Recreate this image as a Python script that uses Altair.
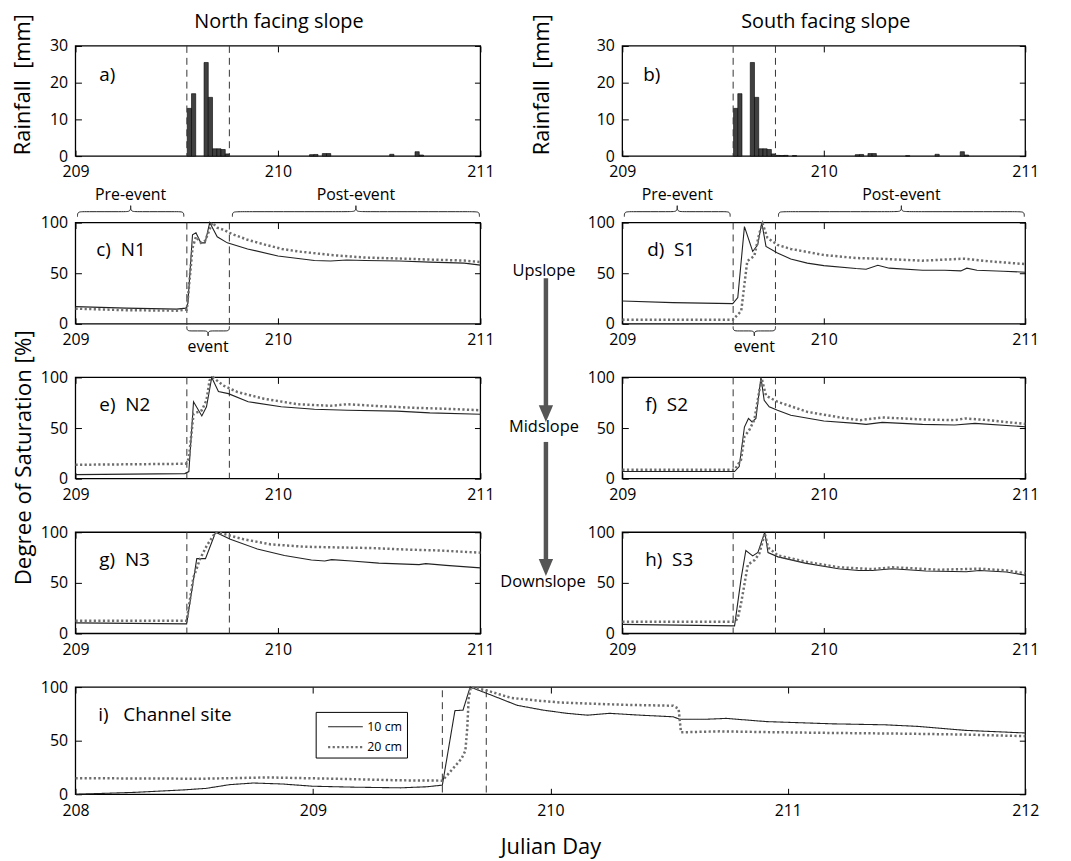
import altair as alt
import pandas as pd

FONT = "Open Sans"
WC, HC = 1063, 853          # canvas (plot area) size in px
TICK = 6                    # inward tick length
NB = "\u00a0"

# ---------------- geometry (canvas px) ----------------
LEFT_X = [68, 476]
RIGHT_X = [619, 1025]
WIDE_X = [68, 1025]
ROW_A = [146, 35]      # [bottom, top]
ROW_C = [315, 213]
ROW_E = [471, 369]
ROW_G = [627, 525]
ROW_I = [789, 681]

# ---------------- data ----------------
x_days = [209, 211]
x_ticks = [209, 210, 211]
x_days_i = [208, 212]
x_ticks_i = [208, 209, 210, 211, 212]
rain_dom = [0, 30]
rain_ticks = [0, 10, 20, 30]
sat_dom = [0, 100]
sat_ticks = [0, 50, 100]

events = [209.55, 209.76]
events_i = [209.545, 209.73]
bin_width = 1 / 48

rain_t_a = [209.552, 209.573, 209.635, 209.656, 209.677, 209.698, 209.719, 209.740,
            210.156, 210.177, 210.219, 210.240, 210.552, 210.677, 210.698]
rain_mm_a = [13, 17, 25.5, 16, 2, 2, 1.8, 0.6, 0.4, 0.45, 0.7, 0.7, 0.5, 1.2, 0.3]
rain_t_b = rain_t_a + [209.760, 209.781, 209.802, 209.844, 210.406]
rain_mm_b = rain_mm_a + [0.2, 0.15, 0.2, 0.15, 0.1]

# N1
c10_t = [209.00, 209.25, 209.50, 209.545, 209.555, 209.578, 209.595, 209.619, 209.640, 209.663, 209.700,
         209.750, 209.850, 210.000, 210.180, 210.260, 210.340, 210.430, 210.600, 210.750, 210.920, 211.000]
c10_v = [17, 15.5, 14.5, 15.5, 20, 88, 90, 80, 80, 100, 86, 80, 74, 67, 62.5, 62, 63, 62.5, 62, 61, 60, 58]
c20_t = [209.00, 209.25, 209.50, 209.550, 209.578, 209.595, 209.620, 209.640, 209.676, 209.700, 209.730,
         209.770, 209.850, 209.940, 210.020, 210.100, 210.260, 210.430, 210.600, 210.750, 210.920, 211.000]
c20_v = [15, 13.5, 13, 14, 75, 86, 80, 82, 100, 95, 93, 89, 83, 78, 74, 71.5, 68, 65.5, 64.5, 63.5, 62.5, 61]
# S1
d10_t = [209.00, 209.25, 209.548, 209.573, 209.606, 209.647, 209.672, 209.692, 209.713, 209.770, 209.836,
         209.918, 210.000, 210.160, 210.210, 210.268, 210.325, 210.490, 210.600, 210.680, 210.710, 210.760,
         210.890, 211.000]
d10_v = [22.5, 21, 20, 26, 96, 71.5, 78, 100, 76.5, 70, 64, 60, 57.5, 54.6, 54, 57.8, 55, 53, 53, 52.3,
         55, 53, 52, 51]
d20_t = [209.00, 209.548, 209.590, 209.606, 209.620, 209.655, 209.680, 209.696, 209.720, 209.770, 209.836,
         210.000, 210.160, 210.268, 210.490, 210.700, 210.820, 211.000]
d20_v = [4, 4, 12.7, 39, 62, 67, 89.5, 99, 85, 78, 74, 68, 65, 64.4, 62.4, 64.4, 61.8, 59]
# N2
e10_t = [209.00, 209.54, 209.56, 209.583, 209.624, 209.647, 209.673, 209.706, 209.755, 209.853, 210.016,
         210.180, 210.343, 210.588, 210.750, 211.000]
e10_v = [4, 5, 7, 76, 62, 71, 100, 86, 84, 76, 71, 68.6, 67.6, 66.7, 65, 63.7]
e20_t = [209.00, 209.545, 209.56, 209.583, 209.624, 209.647, 209.662, 209.680, 209.730, 209.800, 209.930,
         210.098, 210.260, 210.343, 210.507, 210.670, 210.834, 211.000]
e20_v = [13.7, 14.7, 20, 64, 67.6, 77.5, 97, 100, 92, 85.6, 79, 73.5, 72, 73.5, 71.6, 70, 69, 67.6]
# S2
f10_t = [209.00, 209.557, 209.580, 209.606, 209.626, 209.644, 209.663, 209.688, 209.704, 209.729, 209.770,
         209.836, 210.000, 210.160, 210.210, 210.290, 210.490, 210.650, 210.750, 211.000]
f10_v = [7, 7, 12, 51, 59.5, 56, 59.5, 100, 77.5, 71, 67.6, 62.7, 57, 54.6, 53.6, 55.6, 53.6, 53, 54.6, 51.3]
f20_t = [209.00, 209.557, 209.589, 209.606, 209.630, 209.655, 209.680, 209.692, 209.713, 209.770, 209.918,
         210.080, 210.180, 210.290, 210.490, 210.650, 210.700, 210.820, 211.000]
f20_v = [8.8, 8.8, 18.6, 41.5, 48, 58, 87, 98.7, 82, 76, 66, 60.5, 57.8, 60.5, 58.5, 57.8, 59.5, 57.8, 54]
# N3
g10_t = [209.00, 209.549, 209.599, 209.642, 209.692, 209.765, 209.898, 210.032, 210.165, 210.231, 210.265,
         210.364, 210.498, 210.631, 210.697, 210.730, 210.830, 211.000]
g10_v = [10.5, 9.5, 74, 74, 100, 93, 83.5, 77, 72.6, 71.6, 73, 71.6, 69.5, 68.5, 68, 69, 67.3, 64.8]
g20_t = [209.00, 209.549, 209.582, 209.616, 209.649, 209.692, 209.732, 209.832, 209.965, 210.131, 210.298,
         210.464, 210.631, 210.797, 211.000]
g20_v = [12.5, 12.5, 55, 74, 87, 100, 98.4, 93, 88, 85.7, 85, 84.4, 82.9, 82, 79.8]
# S3
h10_t = [209.00, 209.557, 209.590, 209.613, 209.647, 209.673, 209.707, 209.723, 209.773, 209.907, 210.073,
         210.173, 210.240, 210.340, 210.507, 210.707, 210.773, 210.907, 211.000]
h10_v = [9, 7.5, 55, 82, 76.6, 80, 100, 80, 75.7, 69.5, 64, 62.3, 62.3, 64, 61.7, 61, 62.3, 60.7, 57.5]
h20_t = [209.00, 209.557, 209.573, 209.590, 209.623, 209.657, 209.680, 209.707, 209.723, 209.773, 209.907,
         210.073, 210.240, 210.340, 210.573, 210.773, 210.907, 211.000]
h20_v = [11.5, 11.5, 15, 30.5, 68, 72.6, 79, 99, 85, 77, 71, 65.4, 63.6, 65.4, 63, 64, 62.3, 59.5]
# Channel site
i10_t = [208.00, 208.25, 208.45, 208.55, 208.65, 208.75, 208.87, 209.00, 209.18, 209.37, 209.48, 209.545,
         209.598, 209.632, 209.662, 209.722, 209.780, 209.860, 209.970, 210.070, 210.155, 210.250, 210.378,
         210.517, 210.545, 210.657, 210.740, 210.910, 211.190, 211.410, 211.550, 211.750, 212.000]
i10_v = [0, 1.8, 4, 5.5, 9, 10.5, 9.6, 7.5, 6.6, 6, 7, 8.5, 78, 78.5, 100, 95, 90, 83, 78.5, 75.5, 73.8,
         75.5, 73.8, 72.3, 70, 70, 70.8, 67.8, 65.7, 64.8, 63.3, 59.6, 57.2]
i20_t = [208.00, 208.53, 208.81, 209.09, 209.37, 209.545, 209.570, 209.625, 209.642, 209.650, 209.656,
         209.665, 209.730, 209.833, 209.940, 210.044, 210.200, 210.323, 210.517, 210.540, 210.550, 210.713,
         210.910, 211.190, 211.470, 211.750, 212.000]
i20_v = [15, 14.5, 15.7, 14.5, 13, 12.7, 19, 33, 40.6, 62, 90, 100, 97, 90, 87.5, 85.6, 84.3, 83.4, 82.6,
         79.8, 57.8, 58.7, 58, 57.2, 56.6, 55.7, 54.2]

depth_names = ["10 cm", "20 cm"]

# ---------------- helpers ----------------
ONE = pd.DataFrame({"k": [0]})
SOLID = "#222222"
DOT = "#6e6e6e"
COMMON_AX = dict(domain=False, grid=False, title=None, tickSize=TICK, tickColor="black", tickWidth=1,
                 labelOverlap=False, labelFlush=False, labelBound=False)


def sc(dom, rng):
    return alt.Scale(domain=dom, range=rng, nice=False, zero=False)


def bottom_axis(values, yr):
    return alt.Axis(orient="bottom", values=values, format="d", offset=yr[0] - TICK - HC,
                    labelPadding=8, **COMMON_AX)


def base_layers(xdom, xr, ydom, yr, xt, yt):
    fr = pd.DataFrame({"x0": [xdom[0]], "x1": [xdom[1]], "y0": [ydom[0]], "y1": [ydom[1]]})
    xs, ys = sc(xdom, xr), sc(ydom, [yr[0], yr[1]])
    # tick labels split over two axes (ends / inner) so that none is dropped
    outer = [v for k, v in enumerate(xt) if k % 2 == 0]
    inner = [v for k, v in enumerate(xt) if k % 2 == 1]
    frame = alt.Chart(fr).mark_rect(fillOpacity=0, stroke="black", strokeWidth=1.3).encode(
        x=alt.X("x0:Q", scale=xs, axis=bottom_axis(outer, yr)),
        x2="x1:Q",
        y=alt.Y("y0:Q", scale=ys, axis=alt.Axis(orient="left", values=yt, format="d",
                                                offset=-(xr[0] + TICK), labelPadding=8, **COMMON_AX)),
        y2="y1:Q",
    )
    holder = alt.Chart(fr).mark_point(opacity=0).encode(
        x=alt.X("x0:Q", scale=xs, axis=alt.Axis(orient="top", values=xt, labels=False,
                                                offset=-(yr[1] + TICK), **COMMON_AX)),
        y=alt.Y("y0:Q", scale=ys, axis=alt.Axis(orient="right", values=yt, labels=False,
                                                offset=xr[1] - TICK - WC, **COMMON_AX)),
    )
    holder2 = alt.Chart(fr).mark_point(opacity=0).encode(
        x=alt.X("x1:Q", scale=xs, axis=bottom_axis(inner, yr)),
        y=alt.Y("y0:Q", scale=ys, axis=None),
    )
    return [frame, holder, holder2], xs, ys


def txt(s, x, y, size, align="center", angle=0):
    return alt.Chart(ONE).mark_text(text=s, fontSize=size, font=FONT, align=align, baseline="middle",
                                    angle=angle, color="black").encode(x=alt.value(x), y=alt.value(y))


def rules(evts, xs, ys, top, bot):
    df = pd.DataFrame({"t": evts, "top": [top] * len(evts), "bot": [bot] * len(evts)})
    return alt.Chart(df).mark_rule(color="#333333", strokeWidth=1, strokeDash=[7, 5]).encode(
        x=alt.X("t:Q", scale=xs, axis=None), y=alt.Y("top:Q", scale=ys, axis=None), y2="bot:Q")


def lines(t10, v10, t20, v20, xs, ys):
    d10 = pd.DataFrame({"t": t10, "v": v10})
    d20 = pd.DataFrame({"t": t20, "v": v20})
    s = alt.Chart(d10).mark_line(color=SOLID, strokeWidth=1.1).encode(
        x=alt.X("t:Q", scale=xs, axis=None), y=alt.Y("v:Q", scale=ys, axis=None))
    d = alt.Chart(d20).mark_line(color=DOT, strokeWidth=2.5, strokeDash=[2.2, 2.4]).encode(
        x=alt.X("t:Q", scale=xs, axis=None), y=alt.Y("v:Q", scale=ys, axis=None))
    return [s, d]


def brace(segments, xs, ys):
    rows = []
    for sid, (x0, x1, y_end, y_flat, y_tip) in enumerate(segments):
        xm = (x0 + x1) / 2
        e = min(0.03, (x1 - x0) * 0.12)
        left = [(x0, y_end), (x0, y_flat), (x0 + e, y_flat), (xm - e, y_flat), (xm, y_flat), (xm, y_tip)]
        right = [(x1, y_end), (x1, y_flat), (x1 - e, y_flat), (xm + e, y_flat), (xm, y_flat), (xm, y_tip)]
        for side, pts in (("l", left), ("r", right)):
            for k, (px, py) in enumerate(pts):
                rows.append({"seg": f"{sid}{side}", "k": k, "t": px, "v": py})
    df = pd.DataFrame(rows)
    return alt.Chart(df).mark_line(color="#222222", strokeWidth=1, interpolate="basis").encode(
        x=alt.X("t:Q", scale=xs, axis=None), y=alt.Y("v:Q", scale=ys, axis=None),
        detail="seg:N", order="k:Q")


def label_at(s, t, xs, ypix, size=16):
    return alt.Chart(pd.DataFrame({"t": [t]})).mark_text(text=s, fontSize=size, font=FONT,
                                                         baseline="middle", color="black").encode(
        x=alt.X("t:Q", scale=xs, axis=None), y=alt.value(ypix))


def rain_panel(xr, rt, rmm, lab, labx, ylab_x, title, title_x):
    lay, xs, ys = base_layers(x_days, xr, rain_dom, ROW_A, x_ticks, rain_ticks)
    df = pd.DataFrame({"t": rt, "mm": rmm})
    df["t2"] = df["t"] + bin_width
    df["z"] = 0
    bars = alt.Chart(df).mark_rect(color="#404040", stroke="black", strokeWidth=0.6).encode(
        x=alt.X("t:Q", scale=xs, axis=None), x2="t2:Q",
        y=alt.Y("mm:Q", scale=ys, axis=None), y2="z:Q")
    lay += [bars, rules(events, xs, ys, 30, 0),
            txt(lab, labx, 64, 19, align="left"),
            txt("Rainfall" + NB + NB + "[mm]", ylab_x, 74, 22, angle=270),
            txt(title, title_x, 11, 20)]
    return lay


def sat_panel(xr, row, data, lab, labx, evt_bottom=0):
    lay, xs, ys = base_layers(x_days, xr, sat_dom, row, x_ticks, sat_ticks)
    lay += [rules(events, xs, ys, 100, evt_bottom)]
    lay += lines(*data, xs, ys)
    lay += [txt(lab, labx, row[1] + 28, 19, align="left")]
    return lay, xs, ys


layers = []
layers += rain_panel(LEFT_X, rain_t_a, rain_mm_a, "a)", 92, 15, "North facing slope", 273)
layers += rain_panel(RIGHT_X, rain_t_b, rain_mm_b, "b)", 640, 538, "South facing slope", 824)

# rows c/d with braces
for xr, data, lab, labx in [(LEFT_X, (c10_t, c10_v, c20_t, c20_v), "c)" + NB + NB + "N1", 89),
                            (RIGHT_X, (d10_t, d10_v, d20_t, d20_v), "d)" + NB + NB + "S1", 644)]:
    lay, xs, ys = sat_panel(xr, ROW_C, data, lab, labx, evt_bottom=-2.5)
    lay.append(brace([(209.01, 209.535, 105.9, 110.8, 116.7),
                      (209.775, 210.995, 105.9, 110.8, 116.7),
                      (events[0], events[1], -2.5, -7.0, -11.8)], xs, ys))
    lay += [label_at("Pre-event", (209.01 + 209.535) / 2, xs, 185),
            label_at("Post-event", (209.775 + 210.995) / 2, xs, 185),
            label_at("event", (events[0] + events[1]) / 2, xs, 338)]
    layers += lay

for xr, row, data, lab, labx in [
        (LEFT_X, ROW_E, (e10_t, e10_v, e20_t, e20_v), "e)" + NB + NB + "N2", 92),
        (RIGHT_X, ROW_E, (f10_t, f10_v, f20_t, f20_v), "f)" + NB + NB + "S2", 642),
        (LEFT_X, ROW_G, (g10_t, g10_v, g20_t, g20_v), "g)" + NB + NB + "N3", 92),
        (RIGHT_X, ROW_G, (h10_t, h10_v, h20_t, h20_v), "h)" + NB + NB + "S3", 642)]:
    lay, xs, ys = sat_panel(xr, row, data, lab, labx)
    layers += lay

# channel site panel
lay, xs, ys = base_layers(x_days_i, WIDE_X, sat_dom, ROW_I, x_ticks_i, sat_ticks)
di = pd.DataFrame({"t": i10_t + i20_t, "v": i10_v + i20_v,
                   "depth": [depth_names[0]] * len(i10_t) + [depth_names[1]] * len(i20_t)})
leg = alt.Legend(orient="none", legendX=310, legendY=706, title=None, strokeColor="black",
                 fillColor="white", padding=4, rowPadding=2, symbolType="M -1.75 0 L 1.75 0",
                 symbolSize=400, symbolOffset=14.5, labelOffset=10.5,
                 labelFontSize=12.5, labelFont=FONT, labelColor="black",
                 labelExpr="datum.label + '" + NB * 3 + "'")
line_i = alt.Chart(di).mark_line().encode(
    x=alt.X("t:Q", scale=xs, axis=None), y=alt.Y("v:Q", scale=ys, axis=None),
    color=alt.Color("depth:N", scale=alt.Scale(domain=depth_names, range=[SOLID, DOT]), legend=leg),
    strokeDash=alt.StrokeDash("depth:N", scale=alt.Scale(domain=depth_names, range=[[1, 0], [2.2, 2.4]]),
                              legend=leg),
    strokeWidth=alt.StrokeWidth("depth:N", scale=alt.Scale(domain=depth_names, range=[1.1, 2.5]),
                                legend=leg),
)
lay += [rules(events_i, xs, ys, 97, 0), line_i,
        txt("i)" + NB + NB + NB + "Channel" + NB + "site", 91, 709, 19, align="left"),
        txt("Julian Day", 547, 842, 22)]
layers += lay

# shared annotations
ARROW = "#555555"
HEAD = "M -0.85 -1 L 0.85 -1 L 0 1 Z"
layers += [
    txt("Degree of Saturation [%]", 16, 450, 22.5, angle=270),
    txt("Upslope", 540, 262, 16.5),
    txt("Midslope", 540, 419, 16.5),
    txt("Downslope", 539, 575, 16.5),
    alt.Chart(ONE).mark_rule(color=ARROW, strokeWidth=4.5).encode(
        x=alt.value(542), y=alt.value(269), y2=alt.value(400)),
    alt.Chart(ONE).mark_point(shape=HEAD, filled=True, color=ARROW, size=289, opacity=1).encode(
        x=alt.value(542), y=alt.value(405.5)),
    alt.Chart(ONE).mark_rule(color=ARROW, strokeWidth=4.5).encode(
        x=alt.value(542), y=alt.value(434), y2=alt.value(555)),
    alt.Chart(ONE).mark_point(shape=HEAD, filled=True, color=ARROW, size=289, opacity=1).encode(
        x=alt.value(542), y=alt.value(560.5)),
]

chart = (
    alt.layer(*layers)
    .resolve_scale(x="independent", y="independent", color="independent",
                   strokeDash="independent", strokeWidth="independent")
    .resolve_axis(x="independent", y="independent")
    .properties(width=WC, height=HC, padding=0, autosize=alt.AutoSizeParams(type="none"),
                background="white")
    .configure(font=FONT)
    .configure_view(stroke=None)
    .configure_axis(labelFont=FONT, labelFontSize=16, labelColor="black")
)

chart.save("out.html", embed_options={"renderer": "svg", "actions": False})
